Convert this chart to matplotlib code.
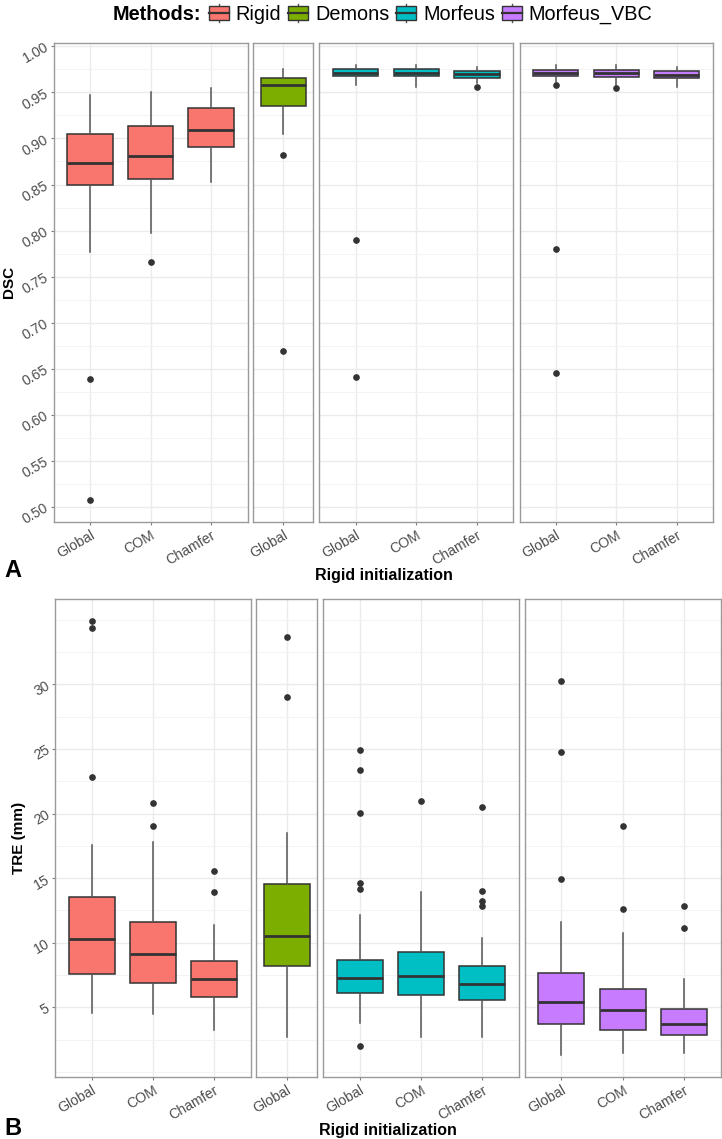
import matplotlib
matplotlib.use('Agg')
import matplotlib.pyplot as plt
from matplotlib.patches import Rectangle, Patch
from matplotlib.lines import Line2D
from matplotlib.legend_handler import HandlerBase
from matplotlib.ticker import MultipleLocator, FixedLocator
import numpy as np

plt.rcParams['font.family'] = ['Liberation Sans', 'DejaVu Sans']

# ---------------- data ----------------
methods = ['Rigid', 'Demons', 'Morfeus', 'Morfeus_VBC']
method_colors = ['#F8766D', '#7CAE00', '#00BFC4', '#C77CFF']
inits_per_method = [['Global', 'COM', 'Chamfer'], ['Global'],
                    ['Global', 'COM', 'Chamfer'], ['Global', 'COM', 'Chamfer']]

# DSC box statistics, order: Rigid(G,COM,Ch), Demons(G), Morfeus(G,COM,Ch), VBC(G,COM,Ch)
dsc_whislo = [0.777, 0.797, 0.853, 0.905, 0.958, 0.956, 0.9605, 0.9616, 0.956, 0.956]
dsc_q1     = [0.849, 0.8556, 0.891, 0.9348, 0.9674, 0.9674, 0.966, 0.968, 0.9663, 0.9656]
dsc_med    = [0.873, 0.881, 0.9094, 0.9583, 0.9713, 0.9713, 0.9703, 0.9713, 0.971, 0.9692]
dsc_q3     = [0.9048, 0.914, 0.9327, 0.9652, 0.975, 0.9757, 0.9732, 0.9743, 0.9743, 0.9728]
dsc_whishi = [0.947, 0.950, 0.9547, 0.9753, 0.980, 0.980, 0.9775, 0.9797, 0.9797, 0.9775]
dsc_fliers = [[0.6394, 0.5076], [0.766], [], [0.8816, 0.669],
              [0.7896, 0.641], [], [0.9555],
              [0.9576, 0.780, 0.645], [0.9544], []]

# TRE (mm) box statistics, same order
tre_whislo = [4.58, 4.46, 3.22, 2.68, 3.81, 2.73, 2.73, 1.31, 1.44, 1.49]
tre_q1     = [7.55, 6.90, 5.80, 8.20, 6.11, 5.98, 5.54, 3.73, 3.22, 2.83]
tre_med    = [10.26, 9.13, 7.17, 10.50, 7.24, 7.40, 6.78, 5.39, 4.79, 3.68]
tre_q3     = [13.54, 11.58, 8.56, 14.52, 8.66, 9.26, 8.22, 7.63, 6.42, 4.89]
tre_whishi = [17.56, 17.77, 11.35, 18.47, 12.17, 13.95, 10.36, 11.63, 10.73, 7.19]
tre_fliers = [[34.9, 34.33, 22.8], [20.84, 19.01], [15.55, 13.92], [33.64, 28.99],
              [24.92, 23.39, 20.02, 14.62, 14.18, 2.0], [20.94], [20.5, 14.03, 13.2, 12.87],
              [30.23, 24.74, 14.95], [19.01, 12.63], [12.82, 11.14]]

dsc_ticks = [0.50, 0.55, 0.60, 0.65, 0.70, 0.75, 0.80, 0.85, 0.90, 0.95, 1.00]
tre_ticks = [5, 10, 15, 20, 25, 30]

# ---------------- figure ----------------
W, H = 722, 1139
fig = plt.figure(figsize=(W / 100, H / 100), dpi=100)
fig.patch.set_facecolor('white')


def px_axes(x0, x1, y0, y1):
    return fig.add_axes([x0 / W, 1 - y1 / H, (x1 - x0) / W, (y1 - y0) / H])


GRID = '#ebebeb'
BORDER = '#9a9a9a'
TXT = '#4d4d4d'
DARK = '#333333'
TICKFS = 10.2


def draw_row(xspans, ytop, ybot, whislo, q1, med, q3, whishi, fliers,
             ticks, tickfmt, minor_step, ylabel, ylabel_x):
    # shared y limits (ggplot-like 5% expansion)
    allv = list(whislo) + list(whishi) + [v for f in fliers for v in f]
    lo, hi = min(allv), max(allv)
    pad = 0.05 * (hi - lo)
    ylim = (lo - pad, hi + pad)
    idx = 0
    for k, (m, inits) in enumerate(zip(methods, inits_per_method)):
        x0, x1 = xspans[k]
        ax = px_axes(x0, x1, ytop, ybot)
        n = len(inits)
        stats = []
        for j in range(n):
            i = idx + j
            stats.append(dict(med=med[i], q1=q1[i], q3=q3[i], whislo=whislo[i],
                              whishi=whishi[i], fliers=fliers[i], label=inits[j]))
        idx += n
        ax.bxp(stats, positions=list(range(n)), widths=0.75, patch_artist=True,
               showfliers=True, showcaps=False,
               boxprops=dict(facecolor=method_colors[k], edgecolor=DARK, linewidth=1.1),
               medianprops=dict(color=DARK, linewidth=2.0, solid_capstyle='butt'),
               whiskerprops=dict(color='#555555', linewidth=1.1),
               flierprops=dict(marker='o', markerfacecolor=DARK, markeredgecolor=DARK,
                               markersize=3.8, linestyle='none'),
               zorder=3)
        if n == 1:
            ax.set_xlim(-0.5, 0.5)
        else:
            ax.set_xlim(-0.6, n - 1 + 0.6)
        ax.set_ylim(*ylim)
        ax.set_xticks(list(range(n)))
        ax.set_xticklabels(inits, rotation=30, ha='right', va='top',
                           rotation_mode='anchor', fontsize=TICKFS, color=TXT)
        ax.yaxis.set_major_locator(FixedLocator(ticks))
        ax.yaxis.set_minor_locator(MultipleLocator(minor_step))
        ax.set_axisbelow(True)
        ax.grid(which='major', axis='both', color=GRID, linewidth=1.0, zorder=0)
        ax.grid(which='minor', axis='y', color='#f3f3f3', linewidth=0.7, zorder=0)
        for s in ax.spines.values():
            s.set_color(BORDER)
            s.set_linewidth(1.0)
        ax.tick_params(axis='both', which='major', length=2.5, width=0.8, color='#7f7f7f',
                       pad=2)
        ax.tick_params(axis='y', which='minor', length=0)
        if k == 0:
            ax.set_yticklabels([tickfmt(t) for t in ticks], rotation=30, ha='right',
                               va='center', rotation_mode='anchor', fontsize=TICKFS,
                               color=TXT)
        else:
            ax.tick_params(axis='y', which='both', left=False, labelleft=False)
    fig.text(ylabel_x / W, 1 - (ytop + ybot) / 2 / H, ylabel, rotation=90,
             ha='center', va='center', fontsize=11, fontweight='bold')


spans_a = [(53.5, 247.5), (253.3, 313.3), (319.3, 513.3), (519.5, 713.0)]
spans_b = [(55.0, 250.7), (256.3, 317.3), (323.0, 519.3), (524.7, 720.7)]

draw_row(spans_a, 43.0, 521.7, dsc_whislo, dsc_q1, dsc_med, dsc_q3, dsc_whishi,
         dsc_fliers, dsc_ticks, lambda t: f'{t:.2f}', 0.025, 'DSC', 9.5)
draw_row(spans_b, 599.3, 1076.7, tre_whislo, tre_q1, tre_med, tre_q3, tre_whishi,
         tre_fliers, tre_ticks, lambda t: f'{t:d}', 2.5, 'TRE (mm)', 19)

# x titles
fig.text(383.5 / W, 1 - 575.5 / H, 'Rigid initialization', ha='center', va='center',
         fontsize=11.5, fontweight='bold')
fig.text(388 / W, 1 - 1130 / H, 'Rigid initialization', ha='center', va='center',
         fontsize=11.5, fontweight='bold')

# panel letters
fig.text(4 / W, 1 - 577 / H, 'A', ha='left', va='baseline', fontsize=17, fontweight='bold')
fig.text(4 / W, 1 - 1135 / H, 'B', ha='left', va='baseline', fontsize=17, fontweight='bold')


# legend
class BoxHandler(HandlerBase):
    def create_artists(self, legend, orig_handle, xdescent, ydescent, width, height,
                       fontsize, trans):
        x0, y0 = -xdescent, -ydescent
        fc = orig_handle.get_facecolor()
        art = []
        cx = x0 + width / 2
        art.append(Line2D([cx, cx], [y0 - 0.2 * height, y0 + 1.2 * height],
                          color='#555555', linewidth=1.0, transform=trans))
        art.append(Rectangle((x0, y0), width, height, facecolor=fc, edgecolor=DARK,
                             linewidth=1.0, transform=trans))
        art.append(Line2D([x0, x0 + width], [y0 + height / 2] * 2, color=DARK,
                          linewidth=1.6, transform=trans))
        return art


LEGFS = 14.3
handles = [Patch(facecolor=c) for c in method_colors]
fig.text(113 / W, 1 - 14.5 / H, 'Methods:', ha='left', va='center', fontsize=LEGFS,
         fontweight='bold')
fig.legend(handles=handles, labels=methods, handler_map={Patch: BoxHandler()},
           ncol=4, loc='center left', bbox_to_anchor=(209 / W, 1 - 14.5 / H),
           frameon=False, fontsize=LEGFS, handlelength=1.0, handleheight=0.65,
           handletextpad=0.35, columnspacing=0.35, borderaxespad=0, borderpad=0)

fig.savefig('out.png', dpi=100, facecolor='white')
